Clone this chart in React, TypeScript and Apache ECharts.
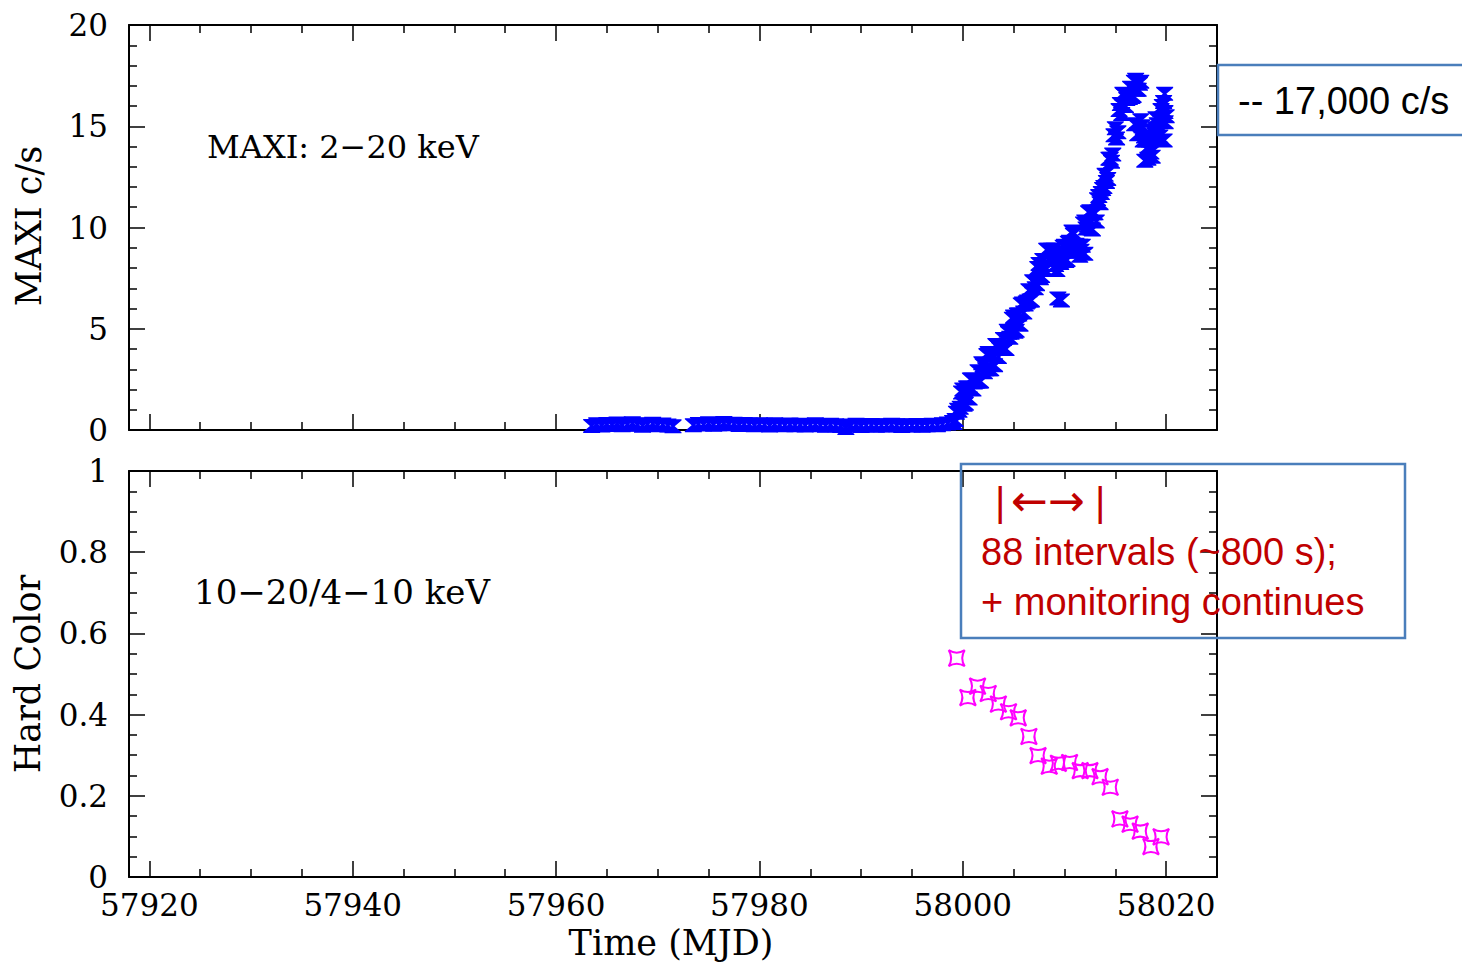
import React, { useEffect, useRef } from "react";
import * as echarts from "echarts";

// ---------- axis ranges & ticks ----------
const X_MIN = 57918;
const X_MAX = 58025;
const xMajorTicks = [57920, 57940, 57960, 57980, 58000, 58020];
const xMinorTicks = [57925, 57930, 57935, 57945, 57950, 57955, 57965, 57970, 57975, 57985, 57990, 57995, 58005, 58010, 58015];

// ---------- MAXI 2-20 keV count rate [MJD, c/s] ----------
const maxiQuiet1 = [
  [57963.5, 0.2], [57964.0, 0.28], [57964.5, 0.22], [57965.0, 0.3], [57965.5, 0.25], [57966.0, 0.32],
  [57966.5, 0.24], [57967.0, 0.27], [57967.5, 0.33], [57968.0, 0.26], [57968.5, 0.21], [57969.0, 0.29],
  [57969.5, 0.31], [57970.0, 0.24], [57970.5, 0.27], [57971.0, 0.22], [57971.5, 0.18],
];
const maxiQuiet2 = [
  [57973.5, 0.24], [57974.0, 0.3], [57974.5, 0.27], [57975.0, 0.33], [57975.5, 0.26], [57976.0, 0.29],
  [57976.5, 0.35], [57977.0, 0.28], [57977.5, 0.31], [57978.0, 0.25], [57978.5, 0.3], [57979.0, 0.27],
  [57979.5, 0.24], [57980.0, 0.29], [57980.5, 0.26], [57981.0, 0.22], [57981.5, 0.28], [57982.0, 0.25],
  [57982.5, 0.23], [57983.0, 0.27], [57983.5, 0.24], [57984.0, 0.26], [57984.5, 0.22], [57985.0, 0.25],
  [57985.5, 0.28], [57986.0, 0.24], [57986.5, 0.21], [57987.0, 0.26], [57987.5, 0.23], [57988.0, 0.2],
  [57988.5, 0.1], [57989.0, 0.22], [57989.5, 0.26], [57990.0, 0.2], [57990.5, 0.23], [57991.0, 0.25],
  [57991.5, 0.21], [57992.0, 0.24], [57992.5, 0.22], [57993.0, 0.26], [57993.5, 0.23], [57994.0, 0.2],
  [57994.5, 0.24], [57995.0, 0.22], [57995.5, 0.25], [57996.0, 0.21], [57996.5, 0.23], [57997.0, 0.26],
  [57997.5, 0.24], [57998.0, 0.28], [57998.5, 0.32],
];
const maxiRiseA = [
  [57999.0, 0.4], [57999.25, 0.5], [57999.5, 1.0], [57999.75, 1.1], [58000.0, 2.0], [58000.25, 1.3],
  [58000.5, 2.1], [58000.75, 2.5], [58001.0, 2.0], [58001.25, 2.4], [58001.5, 2.9], [58001.75, 2.4],
  [58002.0, 3.2], [58002.25, 3.0], [58002.5, 3.8], [58002.75, 3.0], [58003.0, 3.7], [58003.25, 4.2],
  [58003.5, 3.6], [58003.75, 4.1], [58004.0, 4.5], [58004.25, 4.0], [58004.5, 4.8], [58004.75, 4.8],
  [58005.0, 5.6], [58005.25, 4.9], [58005.5, 5.7], [58005.75, 6.2], [58006.0, 5.8], [58006.25, 6.3],
  [58006.5, 6.9], [58006.75, 6.4], [58007.0, 7.3], [58007.25, 7.2], [58007.5, 8.2], [58007.75, 7.6],
  [58008.0, 8.4], [58008.25, 8.9], [58008.5, 8.4], [58008.75, 8.9], [58009.0, 8.9], [58009.25, 7.9],
  [58009.5, 8.6], [58009.75, 8.4], [58010.0, 9.1], [58010.25, 8.4], [58010.5, 9.3], [58010.75, 9.8],
  [58011.0, 9.0], [58011.25, 9.0], [58011.5, 9.1], [58011.75, 9.1], [58012.0, 10.3], [58012.25, 10.1],
  [58012.5, 10.8], [58012.75, 9.9], [58013.0, 10.7], [58013.25, 11.4], [58013.5, 11.2], [58013.75, 11.9],
  [58014.0, 12.6], [58014.25, 12.4], [58014.5, 13.4], [58014.75, 13.6], [58015.0, 14.9], [58015.25, 14.7],
  [58015.5, 16.1], [58015.75, 16.6], [58016.0, 16.0], [58016.25, 16.4], [58016.5, 16.9], [58016.75, 16.5],
  [58017.0, 17.3], [58017.25, 16.8], [58017.5, 17.2], [58017.75, 14.3], [58018.0, 14.3], [58018.25, 14.0],
  [58018.5, 13.7], [58018.75, 14.4], [58019.0, 14.9], [58019.25, 14.8], [58019.5, 15.8], [58019.75, 16.2],
  [58020.0, 15.5],
];
const maxiRiseB = [
  [57999.125, 0.35], [57999.375, 0.85], [57999.625, 0.95], [57999.875, 1.85], [58000.125, 1.25], [58000.375, 2.1],
  [58000.625, 1.55], [58000.875, 2.5], [58001.125, 2.35], [58001.375, 2.4], [58001.625, 2.4], [58001.875, 3.3],
  [58002.125, 2.85], [58002.375, 3.7], [58002.625, 3.0], [58002.875, 3.75], [58003.125, 3.2], [58003.375, 4.15],
  [58003.625, 4.0], [58003.875, 4.05], [58004.125, 4.0], [58004.375, 4.9], [58004.625, 4.55], [58004.875, 5.5],
  [58005.125, 4.85], [58005.375, 5.7], [58005.625, 5.2], [58005.875, 6.25], [58006.125, 6.2], [58006.375, 6.35],
  [58006.625, 6.4], [58006.875, 7.35], [58007.125, 7.0], [58007.375, 8.0], [58007.625, 7.5], [58007.875, 8.4],
  [58008.125, 7.9], [58008.375, 8.9], [58008.625, 8.8], [58008.875, 8.65], [58009.125, 8.15], [58009.375, 8.75],
  [58009.625, 8.25], [58009.875, 9.05], [58010.125, 8.35], [58010.375, 9.25], [58010.625, 8.8], [58010.875, 9.65],
  [58011.125, 9.15], [58011.375, 8.8], [58011.625, 8.85], [58011.875, 10.2], [58012.125, 9.95], [58012.375, 10.75],
  [58012.625, 9.95], [58012.875, 10.7], [58013.125, 10.3], [58013.375, 11.55], [58013.625, 11.7], [58013.875, 12.0],
  [58014.125, 12.25], [58014.375, 13.4], [58014.625, 13.25], [58014.875, 14.55], [58015.125, 14.4], [58015.375, 15.8],
  [58015.625, 15.6], [58015.875, 16.55], [58016.125, 16.35], [58016.375, 16.4], [58016.625, 16.45], [58016.875, 17.2],
  [58017.125, 16.8], [58017.375, 17.1], [58017.625, 15.0], [58017.875, 14.5], [58018.125, 13.9], [58018.375, 14.3],
  [58018.625, 13.5], [58018.875, 14.6], [58019.125, 15.1], [58019.375, 14.5], [58019.625, 16.0], [58019.875, 15.7],
];
const maxiExtra = [
  [58009.35, 6.5], [58009.7, 6.4], [58011.5, 8.6], [58012.0, 8.7], [58016.9, 15.1], [58017.2, 14.6],
  [58017.5, 15.3], [58017.9, 13.3], [58018.2, 13.4], [58018.6, 14.8], [58019.0, 15.4], [58019.8, 14.3],
  [58019.9, 15.2], [58019.85, 16.6],
];

// ---------- Hard color 10-20 / 4-10 keV ----------
const hcTime = [57999.4, 58000.5, 58001.45, 58002.5, 58003.5, 58004.5, 58005.45, 58006.5, 58007.4, 58008.5,
  58009.4, 58010.5, 58011.55, 58012.5, 58013.5, 58014.5, 58015.45, 58016.45, 58017.45, 58018.5, 58019.5];
const hcValue = [0.539, 0.442, 0.47, 0.452, 0.426, 0.407, 0.392, 0.346, 0.299, 0.273,
  0.28, 0.282, 0.262, 0.262, 0.247, 0.221, 0.143, 0.13, 0.113, 0.075, 0.099];

const SERIF = '"DejaVu Serif", "Liberation Serif", serif';
const SANS = '"Liberation Sans", Arial, sans-serif';
const BOX_BLUE = "#4a7ebb";
const RED = "#c00000";

const HOURGLASS = "path://M0,0 L15,0 L15,1 L9,6.5 L15,12 L15,13 L0,13 L0,12 L6,6.5 L0,1 Z";
const STAR4 = "path://M0,0 Q8,5 16,0 Q11,8 16,16 Q8,11 0,16 Q5,8 0,0 Z";

function xAxisDef(gridIndex: number, position: "top" | "bottom", minor: boolean, labels: boolean) {
  return {
    type: "value",
    gridIndex,
    position,
    min: X_MIN,
    max: X_MAX,
    axisLine: { show: !minor, onZero: false, lineStyle: { color: "#000", width: 2 } },
    axisTick: {
      show: true,
      inside: true,
      length: minor ? 8 : 16,
      customValues: minor ? xMinorTicks : xMajorTicks,
      lineStyle: { color: "#000", width: 1.5 },
    },
    axisLabel: labels
      ? {
          show: true,
          customValues: xMajorTicks,
          margin: 16,
          lineHeight: 24,
          color: "#000",
          fontFamily: SERIF,
          fontSize: 31,
          formatter: (v: number) => String(v),
        }
      : { show: false },
    splitLine: { show: false },
  };
}

function yAxisDef(gridIndex: number, position: "left" | "right", max: number, interval: number, minorSplit: number) {
  return {
    type: "value",
    gridIndex,
    position,
    min: 0,
    max,
    interval,
    axisLine: { show: true, onZero: false, lineStyle: { color: "#000", width: 2 } },
    axisTick: { show: true, inside: true, length: 16, lineStyle: { color: "#000", width: 1.5 } },
    minorTick: { show: true, splitNumber: minorSplit, length: 8, lineStyle: { color: "#000", width: 1.5 } },
    axisLabel:
      position === "left"
        ? { show: true, margin: 21, lineHeight: 22, color: "#000", fontFamily: SERIF, fontSize: 31 }
        : { show: false },
    splitLine: { show: false },
    minorSplitLine: { show: false },
  };
}

export default function App() {
  const ref = useRef<HTMLDivElement>(null);

  useEffect(() => {
    if (!ref.current) return;
    const chart = echarts.init(ref.current, null, { renderer: "svg" });
    const maxiData = [...maxiQuiet1, ...maxiQuiet2, ...maxiRiseA, ...maxiRiseB, ...maxiExtra];
    const hcData = hcTime.map((t, i) => [t, hcValue[i]]);

    chart.setOption({
      animation: false,
      backgroundColor: "#fff",
      grid: [
        { left: 129, top: 25, width: 1088, height: 405, containLabel: false },
        { left: 129, top: 471, width: 1088, height: 406, containLabel: false },
      ],
      xAxis: [
        xAxisDef(0, "bottom", false, false),
        xAxisDef(0, "bottom", true, false),
        xAxisDef(0, "top", false, false),
        xAxisDef(0, "top", true, false),
        xAxisDef(1, "bottom", false, true),
        xAxisDef(1, "bottom", true, false),
        xAxisDef(1, "top", false, false),
        xAxisDef(1, "top", true, false),
      ],
      yAxis: [
        yAxisDef(0, "left", 20, 5, 5),
        yAxisDef(0, "right", 20, 5, 5),
        yAxisDef(1, "left", 1, 0.2, 4),
        yAxisDef(1, "right", 1, 0.2, 4),
      ],
      series: [
        {
          name: "MAXI 2-20 keV",
          type: "scatter",
          xAxisIndex: 0,
          yAxisIndex: 0,
          data: maxiData,
          symbol: HOURGLASS,
          symbolSize: [17, 14],
          symbolKeepAspect: false,
          itemStyle: { color: "#0000ff", opacity: 1 },
          emphasis: { disabled: true },
          z: 3,
        },
        {
          name: "Hard Color",
          type: "scatter",
          xAxisIndex: 4,
          yAxisIndex: 2,
          data: hcData,
          symbol: STAR4,
          symbolSize: 16,
          itemStyle: { color: "rgba(0,0,0,0)", borderColor: "#ff00ff", borderWidth: 2, opacity: 1 },
          emphasis: { disabled: true },
          z: 3,
        },
      ],
      graphic: [
        { type: "text", x: 207, y: 147, style: { text: "MAXI: 2\u221220 keV", font: `32px ${SERIF}`, fill: "#000", verticalAlign: "middle" } },
        { type: "text", x: 194, y: 592, style: { text: "10\u221220/4\u221210 keV", font: `34px ${SERIF}`, fill: "#000", verticalAlign: "middle" } },
        {
          type: "text",
          x: 29,
          y: 226,
          rotation: Math.PI / 2,
          style: { text: "MAXI c/s", font: `35px ${SERIF}`, fill: "#000", align: "center", verticalAlign: "middle" },
        },
        {
          type: "text",
          x: 28,
          y: 674,
          rotation: Math.PI / 2,
          style: { text: "Hard Color", font: `35px ${SERIF}`, fill: "#000", align: "center", verticalAlign: "middle" },
        },
        {
          type: "text",
          x: 671,
          y: 943,
          style: { text: "Time (MJD)", font: `35px ${SERIF}`, fill: "#000", align: "center", verticalAlign: "middle" },
        },
        {
          type: "rect",
          shape: { x: 1218, y: 65, width: 262, height: 70 },
          style: { fill: "none", stroke: BOX_BLUE, lineWidth: 2.5 },
          z: 10,
        },
        {
          type: "text",
          x: 1238,
          y: 101,
          style: { text: "-- 17,000 c/s", font: `38px ${SANS}`, fill: "#000", verticalAlign: "middle" },
          z: 10,
        },
        {
          type: "rect",
          shape: { x: 961, y: 464, width: 444, height: 174 },
          style: { fill: "none", stroke: BOX_BLUE, lineWidth: 2.5 },
          z: 10,
        },
        {
          type: "text",
          x: 995,
          y: 502,
          style: { text: "|", font: `40px ${SANS}`, fill: RED, verticalAlign: "middle" },
          z: 10,
        },
        {
          type: "text",
          x: 1011,
          y: 500,
          style: { text: "\u2190\u2192", font: `44px "DejaVu Sans", sans-serif`, fill: RED, verticalAlign: "middle" },
          z: 10,
        },
        {
          type: "text",
          x: 1095,
          y: 502,
          style: { text: "|", font: `40px ${SANS}`, fill: RED, verticalAlign: "middle" },
          z: 10,
        },
        {
          type: "text",
          x: 981,
          y: 552,
          style: { text: "88 intervals (~800 s);", font: `38px ${SANS}`, fill: RED, verticalAlign: "middle" },
          z: 10,
        },
        {
          type: "text",
          x: 981,
          y: 602,
          style: { text: "+ monitoring continues", font: `38px ${SANS}`, fill: RED, verticalAlign: "middle" },
          z: 10,
        },
      ],
    });

    return () => chart.dispose();
  }, []);

  return (
    <div
      ref={ref}
      style={{ position: "fixed", left: 0, top: 0, width: 1462, height: 963, background: "#fff" }}
    />
  );
}
